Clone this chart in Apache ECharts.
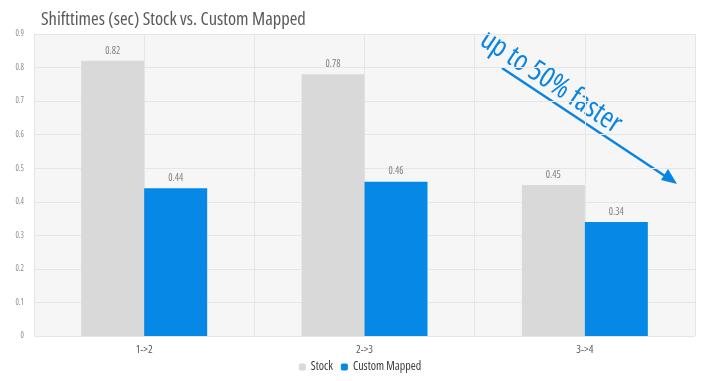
<!DOCTYPE html>
<html><head><meta charset="utf-8">
<script src="https://cdn.jsdelivr.net/npm/echarts@6/dist/echarts.min.js"></script>
<style>html,body{margin:0;padding:0;background:#fff}#c{width:720px;height:381px}</style>
</head><body><div id="c"></div>
<script>
var categories = ['1->2', '2->3', '3->4'];
var stockValues = [0.82, 0.78, 0.45];
var customValues = [0.44, 0.46, 0.34];
var yTicks = [0, 0.1, 0.2, 0.3, 0.4, 0.5, 0.6, 0.7, 0.8, 0.9];

var FONT = "'Open Sans', sans-serif";
function ts(size, color) {
  return {fontFamily: FONT, fontStyle: 'normal', fontWeight: 'condensed', fontSize: size, color: color};
}
var chart = echarts.init(document.getElementById('c'));
chart.setOption({
  animation: false,
  title: {
    text: 'Shifttimes (sec) Stock vs. Custom Mapped',
    left: 36, top: 5,
    textStyle: ts(18.5, '#595959')
  },
  legend: {
    bottom: 3, left: 'center', itemWidth: 7, itemHeight: 7, itemGap: 8,
    textStyle: ts(12, '#3a3a3a'),
    data: ['Stock', 'Custom Mapped']
  },
  grid: {left: 34, right: 25, top: 34, bottom: 45, show: true,
    backgroundColor: '#f6f6f6', borderWidth: 0},
  xAxis: [{
    type: 'category', data: categories,
    axisLine: {show: false}, axisTick: {show: false},
    axisLabel: Object.assign(ts(11, '#595959'), {margin: 8}),
    splitLine: {show: false}
  }, {
    type: 'value', min: 0, max: 6, interval: 1, show: true,
    axisLine: {show: false}, axisTick: {show: false}, axisLabel: {show: false},
    splitLine: {show: true, lineStyle: {color: '#e6e6e6', width: 1}}
  }],
  yAxis: {
    type: 'value', min: 0, max: 0.9, interval: 0.1,
    axisLine: {show: false}, axisTick: {show: false},
    axisLabel: Object.assign(ts(8, '#8c8c8c'), {margin: 10,
      formatter: function (v) { var r = Math.round(v * 10) / 10; return yTicks.indexOf(r) >= 0 ? String(r) : ''; }}),
    splitLine: {lineStyle: {color: '#e6e6e6', width: 1}}
  },
  series: [{
    name: 'Stock', type: 'bar', data: stockValues, barWidth: 63, barGap: '0%',
    itemStyle: {color: '#d9d9d9'},
    label: Object.assign(ts(10, '#7f7f7f'), {show: true, position: 'top', distance: 5})
  }, {
    name: 'Custom Mapped', type: 'bar', data: customValues, barWidth: 63,
    itemStyle: {color: '#0588e6'},
    label: Object.assign(ts(10, '#7f7f7f'), {show: true, position: 'top', distance: 5})
  }],
  graphic: [
    {type: 'line', shape: {x1: 502, y1: 68, x2: 668, y2: 178},
      style: {stroke: '#0a84e2', lineWidth: 2.5}},
    {type: 'polygon', shape: {points: [[677, 184], [661, 180], [668, 169]]},
      style: {fill: '#0a84e2'}},
    {type: 'text', x: 551, y: 82, rotation: -33.5 * Math.PI / 180,
      style: {text: 'up to 50% faster', font: "normal condensed 29px 'Open Sans'",
        fill: '#0a84e2', textAlign: 'center', textVerticalAlign: 'middle'}}
  ]
});
</script></body></html>
